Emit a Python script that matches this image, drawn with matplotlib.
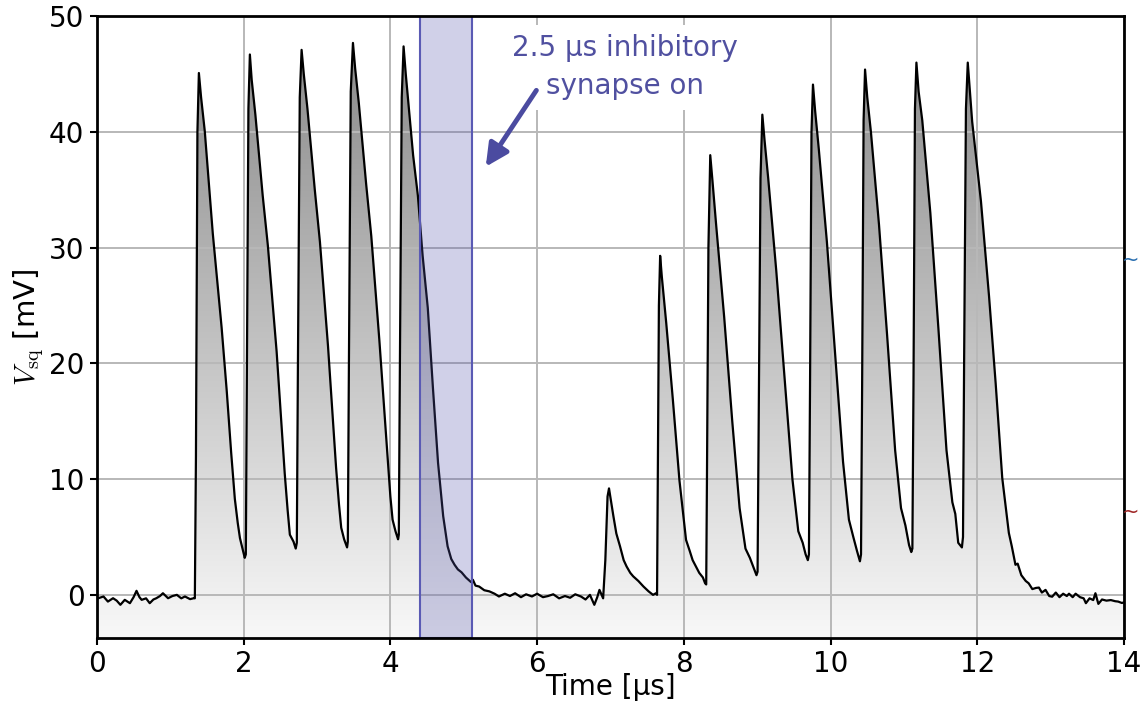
import numpy as np
import matplotlib
matplotlib.use("Agg")
import matplotlib.pyplot as plt
from matplotlib.colors import LinearSegmentedColormap
from matplotlib.patches import PathPatch

# trace: time [us], voltage [mV]
t_base = [0.0, 0.02, 0.09, 0.15, 0.22, 0.27, 0.32, 0.38, 0.45, 0.50, 0.54, 0.58, 0.61, 0.67,
          0.72, 0.77, 0.81, 0.86, 0.90, 0.97, 1.03, 1.09, 1.15, 1.20, 1.27, 1.32]
v_base = [-0.3, -0.29, -0.14, -0.58, -0.29, -0.5, -0.86, -0.43, -0.72, -0.2, 0.35, -0.2, -0.43, -0.3,
          -0.72, -0.4, -0.29, -0.1, 0.14, -0.29, -0.1, 0.0, -0.3, -0.14, -0.37, -0.29]

t_train1 = [1.335, 1.35, 1.37, 1.39, 1.42, 1.47, 1.58, 1.70, 1.77, 1.83, 1.88, 1.92, 1.95, 2.015,
            2.03, 2.045, 2.065, 2.085, 2.11, 2.16, 2.26, 2.33, 2.45, 2.56, 2.60, 2.63, 2.68, 2.71,
            2.725, 2.74, 2.765, 2.79, 2.82, 2.87, 2.97, 3.04, 3.15, 3.26, 3.30, 3.33, 3.37, 3.41,
            3.42, 3.435, 3.46, 3.49, 3.52, 3.57, 3.67, 3.74, 3.85, 3.96, 4.00, 4.03, 4.07, 4.105,
            4.115, 4.13, 4.155, 4.18, 4.21, 4.24, 4.31, 4.375, 4.44, 4.51, 4.58, 4.65, 4.72,
            4.78, 4.83, 4.875, 4.92, 4.97, 5.03, 5.10]
v_train1 = [-0.3, 12.0, 40.0, 45.1, 43.0, 40.1, 31.2, 23.1, 17.6, 12.3, 8.3, 6.2, 4.9, 3.2,
            3.5, 20.0, 42.0, 46.7, 44.5, 41.5, 34.5, 30.2, 21.0, 10.5, 7.3, 5.2, 4.6, 4.0,
            4.5, 20.0, 43.0, 47.1, 45.0, 42.0, 35.0, 30.5, 21.5, 11.0, 7.8, 5.8, 4.8, 4.1,
            4.6, 20.0, 43.5, 47.7, 45.5, 42.5, 35.5, 31.0, 22.0, 12.0, 8.5, 6.5, 5.5, 4.8,
            5.2, 20.0, 43.0, 47.4, 45.0, 42.9, 38.0, 34.5, 29.3, 24.8, 17.9, 11.4, 6.8,
            4.2, 3.1, 2.6, 2.2, 1.95, 1.5, 1.1]

t_gap = [5.125, 5.16, 5.21, 5.28, 5.35, 5.42, 5.48, 5.56, 5.63, 5.70, 5.78, 5.85, 5.93, 6.00,
         6.08, 6.15, 6.22, 6.30, 6.38, 6.45, 6.52, 6.60, 6.66, 6.72, 6.78, 6.82, 6.85, 6.90,
         6.93, 6.96, 6.98, 7.04, 7.08, 7.13, 7.18, 7.22, 7.27, 7.31, 7.38, 7.45, 7.52, 7.58,
         7.62, 7.635]
v_gap = [1.3, 0.8, 0.72, 0.4, 0.3, 0.1, -0.14, 0.1, -0.1, 0.14, -0.2, 0.05, -0.14, 0.1,
         -0.2, -0.1, 0.05, -0.3, -0.1, -0.25, 0.05, -0.15, -0.4, 0.0, -0.86, -0.2, 0.43, -0.3,
         3.0, 8.5, 9.2, 6.8, 5.3, 4.2, 3.0, 2.45, 1.9, 1.6, 1.2, 0.72, 0.3, 0.0,
         0.14, 0.0]

t_train2 = [7.645, 7.66, 7.677, 7.70, 7.76, 7.85, 7.94, 8.03, 8.08, 8.12, 8.21, 8.26, 8.29, 8.305,
            8.315, 8.335, 8.36, 8.39, 8.44, 8.55, 8.66, 8.76, 8.84, 8.90, 8.96, 8.99,
            9.005, 9.02, 9.045, 9.07, 9.10, 9.15, 9.26, 9.37, 9.48, 9.56, 9.62, 9.66, 9.69,
            9.705, 9.72, 9.74, 9.76, 9.79, 9.84, 9.95, 10.06, 10.17, 10.25, 10.31, 10.36, 10.40,
            10.415, 10.43, 10.45, 10.47, 10.50, 10.55, 10.66, 10.77, 10.88, 10.96, 11.02, 11.07, 11.10,
            11.115, 11.13, 11.15, 11.17, 11.20, 11.25, 11.36, 11.47, 11.58, 11.66, 11.70, 11.74, 11.79,
            11.805, 11.82, 11.845, 11.87, 11.90, 11.93, 12.05, 12.16, 12.25, 12.34, 12.43, 12.47, 12.52]
v_train2 = [10.0, 25.0, 29.3, 27.5, 23.5, 16.9, 9.9, 4.75, 3.8, 3.0, 1.9, 1.5, 1.0, 0.9,
            10.0, 30.0, 38.0, 35.8, 32.0, 24.0, 15.0, 7.5, 4.0, 3.2, 2.2, 1.7,
            2.0, 15.0, 36.0, 41.5, 39.3, 36.0, 28.0, 19.0, 10.0, 5.5, 4.5, 3.5, 3.0,
            3.5, 18.0, 40.0, 44.1, 41.8, 38.5, 30.5, 21.0, 11.5, 6.5, 5.0, 3.8, 2.9,
            3.5, 18.0, 41.0, 45.4, 43.0, 40.0, 32.0, 22.5, 12.5, 7.5, 6.0, 4.3, 3.7,
            4.0, 18.0, 42.0, 46.0, 43.5, 41.0, 33.0, 23.0, 12.5, 8.0, 7.0, 4.5, 4.1,
            5.0, 20.0, 42.0, 46.0, 43.5, 40.9, 34.0, 25.8, 18.3, 10.1, 5.35, 4.2, 2.6]

t_tail = [12.55, 12.60, 12.66, 12.70, 12.75, 12.80, 12.84, 12.88, 12.93, 12.98, 13.02, 13.07,
          13.12, 13.17, 13.22, 13.25, 13.30, 13.34, 13.40, 13.45, 13.48, 13.53, 13.58, 13.61,
          13.65, 13.70, 13.76, 13.82, 13.88, 13.92, 13.97, 14.0]
v_tail = [2.7, 1.7, 1.2, 1.0, 0.5, 0.6, 0.63, 0.2, 0.43, -0.1, -0.16, 0.2,
          -0.2, 0.1, -0.1, 0.1, -0.2, 0.1, -0.2, -0.3, -0.72, -0.3, -0.45, 0.14,
          -0.78, -0.4, -0.5, -0.45, -0.55, -0.58, -0.7, -0.65]

t = np.array(t_base + t_train1 + t_gap + t_train2 + t_tail)
v = np.array(v_base + v_train1 + v_gap + v_train2 + v_tail)

inhib_on, inhib_off = 4.41, 5.11
ymin, ymax = -3.7, 50

plt.rcParams['font.family'] = ['DejaVu Sans']
plt.rcParams['mathtext.fontset'] = 'cm'

fig = plt.figure(figsize=(11.4, 7.09), dpi=100)
ax = fig.add_axes([0.085, 0.1006, 0.901, 0.8764])

# gray gradient under the trace
cmap = LinearSegmentedColormap.from_list("fillgray", ["#f8f8f8", "#868686"])
grad = np.linspace(0, 1, 256).reshape(-1, 1)
img = ax.imshow(grad, extent=[0, 14, ymin, ymax], origin='lower', cmap=cmap,
                aspect='auto', zorder=1, interpolation='bilinear')
poly = ax.fill_between(t, v, ymin, facecolor='none', edgecolor='none')
clip = PathPatch(poly.get_paths()[0], transform=ax.transData, facecolor='none', edgecolor='none')
ax.add_patch(clip)
img.set_clip_path(clip)

ax.plot(t, v, color='black', lw=1.6, zorder=3)

ax.axvspan(inhib_on, inhib_off, facecolor=(0.33, 0.33, 0.67, 0.27),
           edgecolor='#5a5ab4', lw=1.5, zorder=4)

ax.text(7.2, 45.6, '2.5 µs inhibitory\nsynapse on', color='#5050a0', fontsize=20,
        ha='center', va='center', linespacing=1.45, zorder=6,
        bbox=dict(facecolor='white', edgecolor='none', pad=7))
ax.annotate('', xy=(5.30, 37.0), xytext=(5.99, 43.6),
            arrowprops=dict(arrowstyle='-|>', lw=3.5, color='#4b4ba0', mutation_scale=34,
                            shrinkA=0, shrinkB=0),
            zorder=8)

ax.set_xlim(0, 14)
ax.set_ylim(ymin, ymax)
ax.set_xticks([0, 2, 4, 6, 8, 10, 12, 14])
ax.set_yticks([0, 10, 20, 30, 40, 50])
ax.grid(True, color='#b8b8b8', lw=1.4)
ax.set_axisbelow(False)
for gl in ax.get_xgridlines() + ax.get_ygridlines():
    gl.set_zorder(2)
ax.tick_params(labelsize=20, length=5, width=1.5, direction='out', pad=4)
for s in ax.spines.values():
    s.set_linewidth(2)
    s.set_zorder(7)

ax.set_xlabel('Time [µs]', fontsize=20, labelpad=-4)
ax.set_ylabel(r'$V_{\rm sq}$ [mV]', fontsize=21, labelpad=2)

# clipped markers peeking in at the right edge
fig.text(0.9915, 0.633, '~', color='#2a6fb0', fontsize=15, ha='center', va='center')
fig.text(0.9915, 0.278, '~', color='#a02828', fontsize=15, ha='center', va='center')

fig.savefig('out.png', dpi=100)
